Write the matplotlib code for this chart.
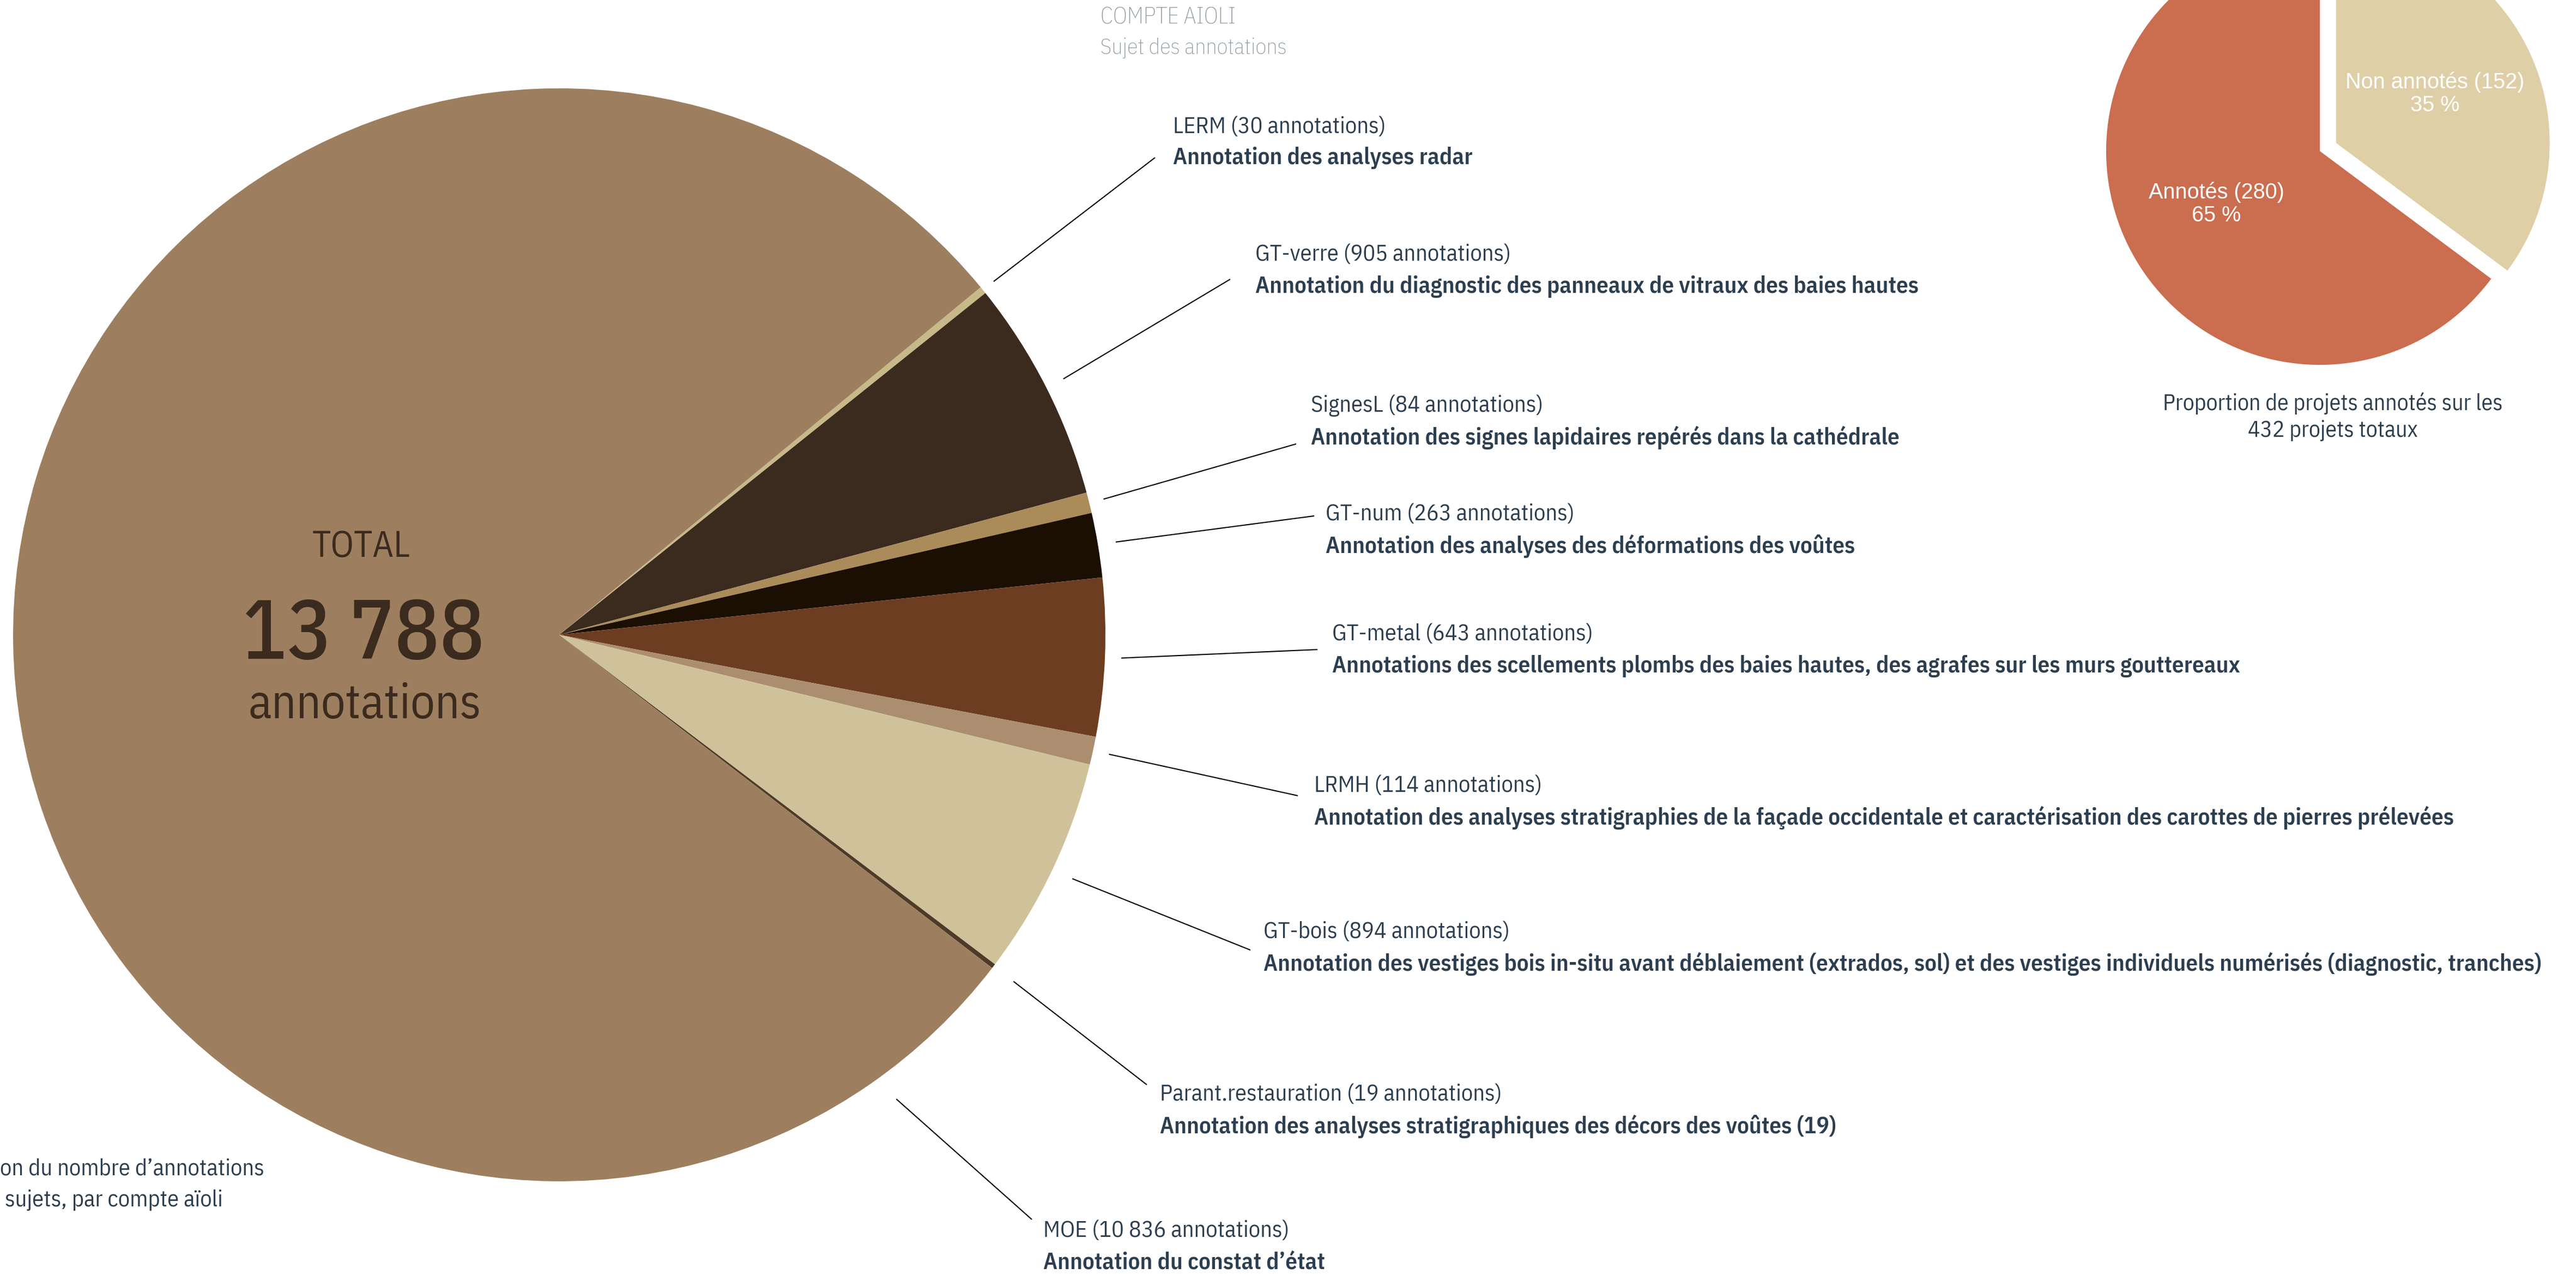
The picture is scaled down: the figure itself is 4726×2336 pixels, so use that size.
import matplotlib
matplotlib.use("Agg")
import matplotlib.pyplot as plt
import numpy as np
from matplotlib import font_manager as fm
from matplotlib.font_manager import FontProperties

# ---------------- data ----------------
accounts = ['LERM', 'GT-verre', 'SignesL', 'GT-num', 'GT-metal', 'LRMH',
            'GT-bois', 'Parant.restauration', 'MOE']
counts = [30, 905, 84, 263, 643, 114, 894, 19, 10836]
subjects = [
    'Annotation des analyses radar',
    'Annotation du diagnostic des panneaux de vitraux des baies hautes',
    'Annotation des signes lapidaires repérés dans la cathédrale',
    'Annotation des analyses des déformations des voûtes',
    'Annotations des scellements plombs des baies hautes, des agrafes sur les murs gouttereaux',
    'Annotation des analyses stratigraphies de la façade occidentale et caractérisation des carottes de pierres prélevées',
    'Annotation des vestiges bois in-situ avant déblaiement (extrados, sol) et des vestiges individuels numérisés (diagnostic, tranches)',
    'Annotation des analyses stratigraphiques des décors des voûtes (19)',
    'Annotation du constat d’état',
]
slice_colors = ['#c8b98a', '#3b2a1e', '#ab8b5a', '#1b0e03', '#6d3d22',
                '#ab8e6f', '#cfc29a', '#4e3a28', '#9d7f5f']

proj_labels = ['Non annotés', 'Annotés']
proj_counts = [152, 280]
proj_colors = ['#dfcfa7', '#cb6d4f']

# ---------------- fonts ----------------
def font(name, weight, size):
    cands = [f for f in fm.fontManager.ttflist
             if f.name == name and f.style == 'normal']
    if not cands:
        return FontProperties(family='DejaVu Sans', size=size,
                              weight='bold' if weight >= 600 else 'normal')
    def w(f):
        try:
            return int(f.weight)
        except Exception:
            return 700 if 'bold' in str(f.weight) else 400
    best = min(cands, key=lambda f: abs(w(f) - weight))
    return FontProperties(fname=best.fname, size=size)

COND = 'IBM Plex Sans Condensed'
TXT = '#2c3e4f'

W, H = 4726, 2336
fig = plt.figure(figsize=(W / 100, H / 100), dpi=100)
ax = fig.add_axes([0, 0, 1, 1])

# ---------------- main pie ----------------
cx, cy, R = 1026, H - 1164, 1002
wedges, _ = ax.pie(counts, colors=slice_colors, startangle=39.5,
                   counterclock=False, center=(cx, cy), radius=R,
                   wedgeprops=dict(linewidth=0), frame=True)

# ---------------- small pie ----------------
scx, scy, sR = 4256, H - 277, 392
swedges, _ = ax.pie(proj_counts, colors=proj_colors, startangle=90,
                    counterclock=False, center=(scx, scy), radius=sR,
                    explode=[0.085 * sR, 0], wedgeprops=dict(linewidth=0),
                    frame=True)

ax.set_xlim(0, W)
ax.set_ylim(0, H)
ax.set_aspect('equal')
ax.axis('off')

# small pie texts
pct = [round(100 * v / sum(proj_counts)) for v in proj_counts]
small_pos = [(4467, 172), (4066, 374)]
for lab, v, p, (x, y) in zip(proj_labels, proj_counts, pct, small_pos):
    ax.text(x, H - y, f'{lab} ({v})\n{p} %', ha='center', va='center',
            color='white', fontproperties=font('Liberation Sans', 400, 28.5),
            linespacing=1.15)

ax.text(4280, H - 764, f'Proportion de projets annotés sur les\n{sum(proj_counts)} projets totaux',
        ha='center', va='center', color=TXT, linespacing=1.3,
        fontproperties=font(COND, 400, 30))

# ---------------- centre text ----------------
total = sum(counts)
ctr = '#3b2b1e'
ax.text(663, H - 1003, 'TOTAL', ha='center', va='center', color=ctr,
        fontproperties=font(COND, 400, 48))
ax.text(667, H - 1166, f'{total:,}'.replace(',', ' '), ha='center', va='center',
        color=ctr, fontproperties=font(COND, 500, 110))
ax.text(669, H - 1293, 'annotations', ha='center', va='center', color=ctr,
        fontproperties=font(COND, 400, 64))

# ---------------- titles ----------------
ax.text(2019, H - 32, 'COMPTE AIOLI', ha='left', va='center', color='#8c98a3',
        fontproperties=font(COND, 200, 30))
ax.text(2019, H - 88, 'Sujet des annotations', ha='left', va='center', color='#8c98a3',
        fontproperties=font(COND, 200, 29))

ax.text(0, H - 2143, 'on du nombre d’annotations', ha='left', va='center', color=TXT,
        fontproperties=font(COND, 400, 30.5))
ax.text(9, H - 2200, 'sujets, par compte aïoli', ha='left', va='center', color=TXT,
        fontproperties=font(COND, 400, 30.5))

# ---------------- labels with leader lines ----------------
label_xy = [(2152, 232), (2303, 467), (2405, 744), (2432, 943), (2444, 1163),
            (2411, 1441), (2318, 1709), (2128, 2007), (1914, 2257)]
line_end = [(2119, 289), (2257, 512), (2378, 814), (2411, 946), (2417, 1191),
            (2381, 1459), (2294, 1742), (2104, 1989), (1893, 2236)]
line_r = [1.025, 1.035, 1.027, 1.033, 1.03, 1.03, 1.04, 1.046, 1.05]

f_reg = font(COND, 400, 30.5)
f_bold = font(COND, 600, 31)
for i, (name, n, subj) in enumerate(zip(accounts, counts, subjects)):
    x, y = label_xy[i]
    ax.text(x, H - y, f'{name} ({n:,} annotations)'.replace(',', ' '),
            ha='left', va='center', color=TXT, fontproperties=f_reg)
    ax.text(x, H - y - 58, subj, ha='left', va='center', color=TXT,
            fontproperties=f_bold)
    wdg = wedges[i]
    if name == 'MOE':
        ang = np.deg2rad(-54)
    else:
        ang = np.deg2rad((wdg.theta1 + wdg.theta2) / 2)
    sx = cx + R * line_r[i] * np.cos(ang)
    sy = cy + R * line_r[i] * np.sin(ang)
    ex, ey = line_end[i]
    ax.plot([sx, ex], [sy, H - ey], color='black', lw=1.5, solid_capstyle='butt')

fig.savefig('out.png', dpi=100)
